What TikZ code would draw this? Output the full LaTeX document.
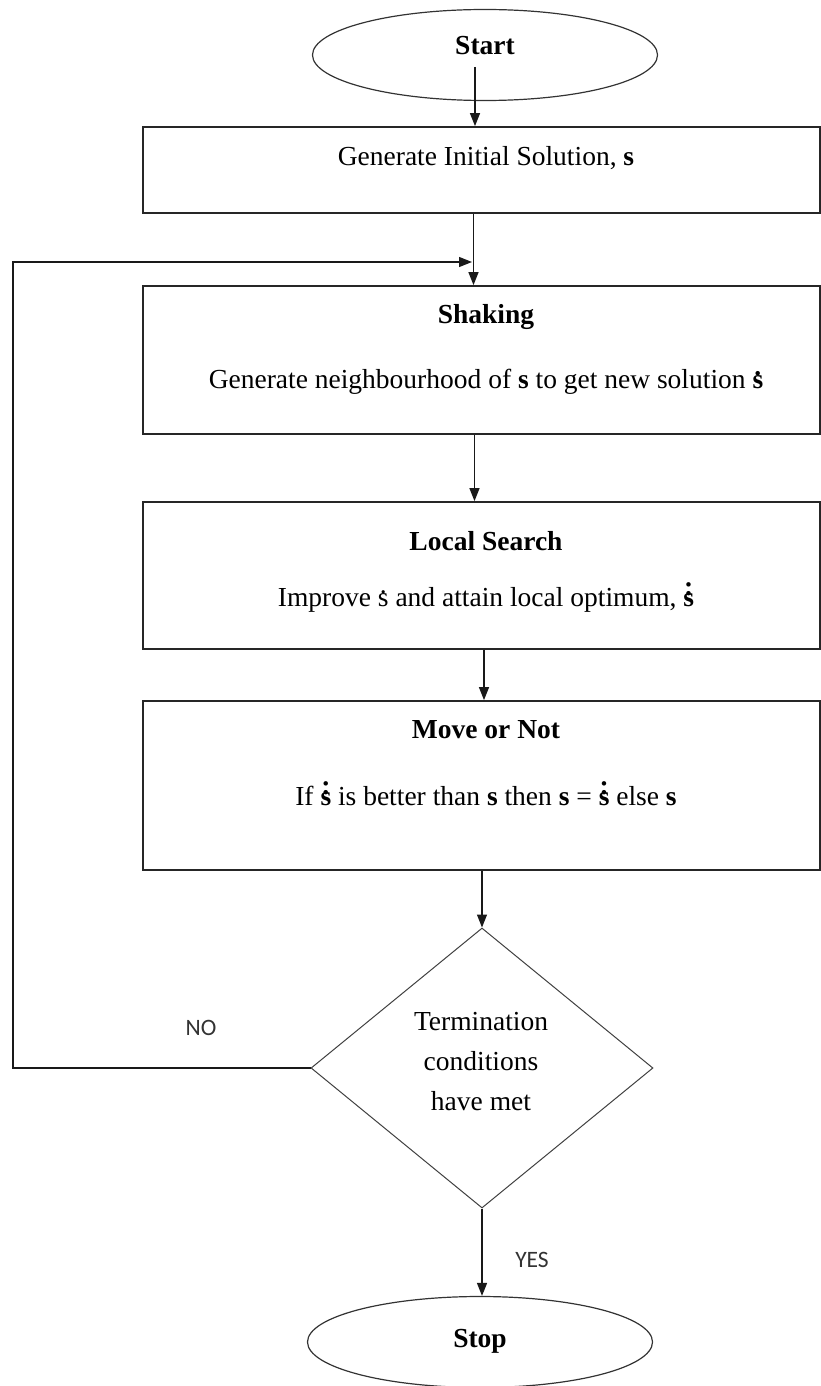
\documentclass[tikz,border=0pt]{standalone}
\usepackage{fontspec}
\setmainfont{Liberation Serif}
\newfontfamily\labelfont{Carlito}
\usetikzlibrary{shapes.geometric,arrows.meta}
% s with one dot / two stacked dots above it
\newcommand{\sdot}{{\ooalign{s\cr\hidewidth\raisebox{0.47em}{.}\hidewidth\cr}}}
\newcommand{\sddot}{{\ooalign{s\cr\hidewidth\raisebox{0.40em}{:}\hidewidth\cr}}}
\begin{document}
\begin{tikzpicture}[x=1pt,y=-1pt,
  every node/.style={font=\fontsize{27.5}{40}\selectfont, inner sep=0pt},
  stepbox/.style={draw=black!85, line width=1.8pt, rectangle, minimum width=677pt},
  term/.style={draw=black!80, line width=1.2pt, ellipse, minimum width=345pt, minimum height=91pt},
  decide/.style={draw=black!75, line width=1pt, diamond, minimum width=342pt, minimum height=280pt},
  title/.style={font=\fontsize{27.5}{40}\selectfont\bfseries, anchor=base},
  body/.style={anchor=base},
  tag/.style={font=\labelfont\fontsize{23.5}{28}\selectfont, text=black!80, anchor=base},
  arr/.style={draw=black!90, line width=1.3pt, -{Triangle[length=13pt,width=10pt]}},
]
\useasboundingbox (0,0) rectangle (821,1386);

% terminals
\node[term] (start) at (485,55) {};
\node[title] (startlbl) at (485,55) {Start};
\node[term] (stop) at (480,1342) {};
\node[title] (stoplbl) at (480,1347) {Stop};

% process steps
\node[stepbox, minimum height=86pt] (init) at (481.5,170) {};
\node[body] (initlbl) at (486,165) {Generate Initial Solution, \textbf{s}};

\node[stepbox, minimum height=148pt] (shake) at (481.5,360) {};
\node[title] (shaketitle) at (486,323) {Shaking};
\node[body] (shakebody) at (486,388) {Generate neighbourhood of \textbf{s} to get new solution \textbf{\sdot}};

\node[stepbox, minimum height=147pt] (search) at (481.5,575.5) {};
\node[title] (searchtitle) at (486,550) {Local Search};
\node[body] (searchbody) at (486,606) {Improve \sdot{} and attain local optimum, \textbf{\sddot}};

\node[stepbox, minimum height=169pt] (move) at (481.5,785.5) {};
\node[title] (movetitle) at (486,738) {Move or Not};
\node[body] (movebody) at (486,805) {If \textbf{\sddot} is better than \textbf{s} then \textbf{s} = \textbf{\sddot} else \textbf{s}};

% decision (base anchor of a multi-line node is its last line)
\node[decide] (cond) at (482,1068) {};
\node[body, align=center] (condlbl) at (481,1110) {Termination\\conditions\\have met};

\node[tag] (no) at (201,1035) {NO};
\node[tag] (yes) at (532,1267) {YES};

% flow
\draw[arr] ([xshift=-10pt,yshift=-12pt]start.center) -- ([xshift=-6.5pt]init.north);
\draw[arr] ([xshift=-8pt]init.south) -- ([xshift=-8pt]shake.north);
\draw[arr] ([xshift=-7pt]shake.south) -- ([xshift=-7pt]search.north);
\draw[arr] ([xshift=2.5pt]search.south) -- ([xshift=2.5pt]move.north);
\draw[arr] ([xshift=0.5pt]move.south) -- (cond.north);
\draw[arr] (cond.south) -- (cond.south |- stop.north);

% loop back when not terminated
\coordinate (loopcorner) at (13,262);
\coordinate (loopend) at (472,262);
\draw[arr] (cond.west) -| (loopcorner) -- (loopend);
\end{tikzpicture}
\end{document}
